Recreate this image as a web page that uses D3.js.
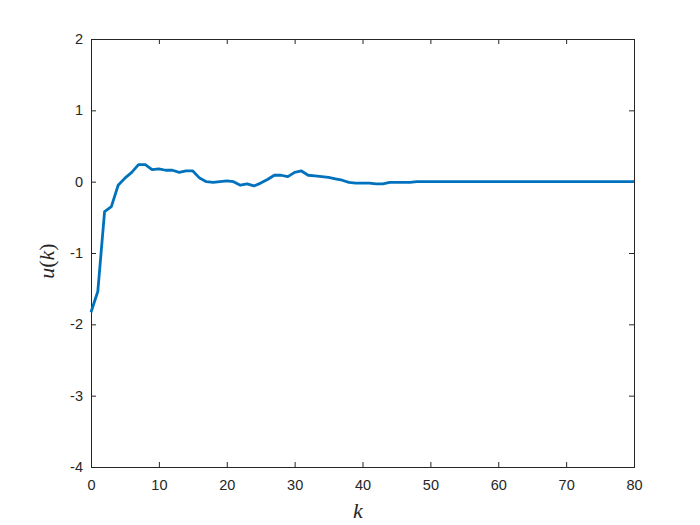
<!DOCTYPE html>
<html><head><meta charset="utf-8">
<script src="https://cdn.jsdelivr.net/npm/d3@7/dist/d3.min.js"></script>
<style>body{margin:0;background:#fff}svg{display:block}</style>
</head><body>
<script>
const kValues = d3.range(0, 81);
const uValues = [-1.83,-1.54,-0.42,-0.35,-0.05,0.05,0.13,0.24,0.24,0.17,
 0.18,0.16,0.16,0.13,0.15,0.15,0.05,0.0,-0.01,0.0,
 0.01,0.0,-0.05,-0.03,-0.06,-0.02,0.03,0.09,0.09,0.07,
 0.13,0.15,0.09,0.08,0.07,0.06,0.04,0.02,-0.01,-0.02,
 -0.02,-0.02,-0.03,-0.03,-0.01,-0.01,-0.01,-0.01,0,0,
 0,0,0,0,0,0,0,0,0,0,
 0,0,0,0,0,0,0,0,0,0,
 0,0,0,0,0,0,0,0,0,0,0];
const xTicks = [0,10,20,30,40,50,60,70,80];
const yTicks = [-4,-3,-2,-1,0,1,2];

const W=700,H=525, L=91, R=634, T=39, B=467;
const svg = d3.select("body").append("svg").attr("width",W).attr("height",H);
const x = d3.scaleLinear().domain([0,80]).range([L,R]);
const y = d3.scaleLinear().domain([-4,2]).range([B,T]);
const col="#262626", font="Helvetica, Arial, 'Liberation Sans', sans-serif";

const gx = svg.append("g").attr("transform",`translate(0,${B})`)
  .call(d3.axisBottom(x).tickValues(xTicks).tickSize(-5).tickPadding(13).tickFormat(d3.format("d")));
const gy = svg.append("g").attr("transform",`translate(${L},0)`)
  .call(d3.axisLeft(y).tickValues(yTicks).tickSize(-5).tickPadding(8).tickFormat(d=>d<0?"-"+Math.abs(d):d));
const gxt = svg.append("g").attr("transform",`translate(0,${T})`)
  .call(d3.axisTop(x).tickValues(xTicks).tickSize(-5).tickFormat(""));
const gyr = svg.append("g").attr("transform",`translate(${R},0)`)
  .call(d3.axisRight(y).tickValues(yTicks).tickSize(-5).tickFormat(""));
[gx,gy,gxt,gyr].forEach(g=>{
  g.selectAll("path.domain").attr("stroke",col).attr("stroke-width",1);
  g.selectAll(".tick line").attr("stroke",col);
  g.selectAll("text").attr("fill",col).style("font-family",font).style("font-size","14.5px");
});

svg.append("path").datum(kValues.map((k,i)=>[k,uValues[i]]))
  .attr("fill","none").attr("stroke","#0072BD").attr("stroke-width",2.8)
  .attr("stroke-linejoin","round")
  .attr("d", d3.line().x(d=>x(d[0])).y(d=>y(d[1])));

svg.append("text").attr("x",358).attr("y",518).attr("text-anchor","middle")
  .style("font-family","'Liberation Serif','DejaVu Serif',serif").style("font-style","italic")
  .style("font-size","22px").attr("fill",col).text("k");
svg.append("text").attr("transform",`translate(54,261) rotate(-90)`).attr("text-anchor","middle")
  .style("font-family","'Liberation Serif','DejaVu Serif',serif").style("font-size","22px").attr("fill",col)
  .html('<tspan font-style="italic">u</tspan>(<tspan font-style="italic">k</tspan>)');
</script>
</body></html>
